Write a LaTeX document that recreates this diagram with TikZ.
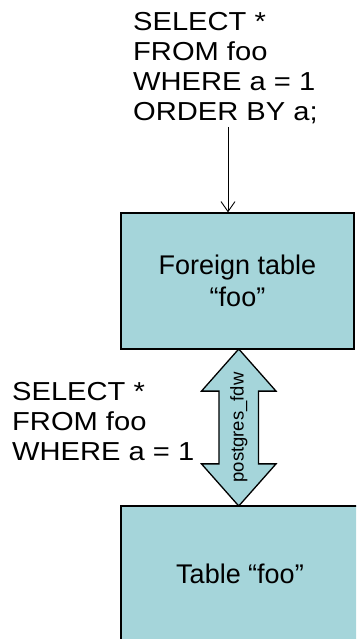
\documentclass[tikz,border=0pt]{standalone}
\usepackage{fontspec}
\setmainfont{Liberation Sans}
\newfontfamily\queryfont[FakeStretch=1.12]{Liberation Sans}
\usetikzlibrary{arrows.meta,shapes.arrows,calc}
\definecolor{tablefill}{RGB}{165,213,218}

\begin{document}
\begin{tikzpicture}[x=1pt,y=-1pt,
		query/.style={align=left,inner sep=0pt,font=\queryfont\fontsize{26}{30}\selectfont},
		tablebox/.style={draw,line width=1.3pt,fill=tablefill,align=center,
			font=\fontsize{27}{32}\selectfont},
		fdwlink/.style={double arrow,draw,line width=1.3pt,fill=tablefill,
			double arrow head extend=17.5pt,double arrow tip angle=83,
			inner xsep=0pt,inner ysep=10.5pt,font=\fontsize{18.5}{20}\selectfont}]
	\useasboundingbox (0,0) rectangle (356,639);
	\clip (0,0) rectangle (356,639);
	% the two tables
	\node(ft)[tablebox,minimum width=233pt,minimum height=136pt] at (237.5,281)
		{Foreign table\\“foo”};
	\node(tbl)[tablebox,minimum width=238pt,minimum height=136pt] at (240,574)
		{Table “foo”};
	% queries
	\node(q1)[query,anchor=north west] at (133,12)
		{SELECT *\\FROM foo\\WHERE a = 1\\ORDER BY a;};
	\node(q2)[query,anchor=north west] at (12,382)
		{SELECT *\\FROM foo\\WHERE a = 1};
	\coordinate(qin) at (228,127);
	\draw[-{Straight Barb[length=10pt,width=14pt]},line width=0.9pt]
		(qin) -- (qin |- ft.north);
	% fdw link between the tables
	\node(fdw)[fdwlink,rotate=90,minimum height=157pt]
		at ($(ft.south)!0.5!(tbl.north)$) {postgres\_fdw};
\end{tikzpicture}
\end{document}
